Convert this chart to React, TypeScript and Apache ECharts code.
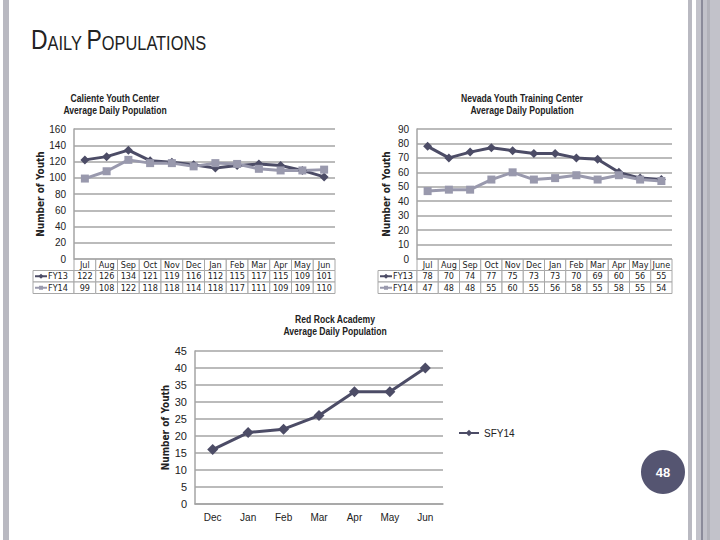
import { useEffect, useRef } from "react";
import * as echarts from "echarts";

const calienteMonths = ["Jul", "Aug", "Sep", "Oct", "Nov", "Dec", "Jan", "Feb", "Mar", "Apr", "May", "Jun"];
const calienteFy13 = [122, 126, 134, 121, 119, 116, 112, 115, 117, 115, 109, 101];
const calienteFy14 = [99, 108, 122, 118, 118, 114, 118, 117, 111, 109, 109, 110];

const nytcMonths = ["Jul", "Aug", "Sep", "Oct", "Nov", "Dec", "Jan", "Feb", "Mar", "Apr", "May", "June"];
const nytcFy13 = [78, 70, 74, 77, 75, 73, 73, 70, 69, 60, 56, 55];
const nytcFy14 = [47, 48, 48, 55, 60, 55, 56, 58, 55, 58, 55, 54];

const redRockMonths = ["Dec", "Jan", "Feb", "Mar", "Apr", "May", "Jun"];
const redRockSfy14 = [16, 21, 22, 26, 33, 33, 40];

const DARK = "#4c4c66";
const LIGHT = "#9999ad";
const GRID_LINE = "#a4a4a4";
const TEXT = "#222";
const FONT = "'Liberation Sans', Arial, sans-serif";
const NARROW = "'DejaVu Sans Condensed', 'Liberation Sans', sans-serif";

type Row = { name: string; values: number[]; color: string; symbol: "diamond" | "rect" };

// data table drawn under a chart: header row of months, one row per series
function dataTable(left: number, right: number, top: number, legendLeft: number, months: string[], rows: Row[]) {
  const rowH = 11.5;
  const colW = (right - left) / months.length;
  const cell = (x: number, y: number, w: number) => ({
    type: "rect",
    shape: { x, y, width: w, height: rowH },
    style: { fill: "#fff", stroke: "#a8a8a8", lineWidth: 1 }
  });
  const label = (text: string, x: number, y: number, align = "center") => ({
    type: "text",
    x,
    y,
    style: { text, align, verticalAlign: "middle", fill: TEXT, fontSize: 9, fontFamily: NARROW }
  });
  const els: any[] = [];
  months.forEach((m, i) => {
    els.push(cell(left + i * colW, top, colW));
    els.push(label(m, left + (i + 0.5) * colW, top + rowH / 2));
  });
  rows.forEach((r, ri) => {
    const y = top + (ri + 1) * rowH;
    const cy = y + rowH / 2;
    els.push(cell(legendLeft, y, left - legendLeft));
    els.push({
      type: "line",
      shape: { x1: legendLeft + 2, y1: cy, x2: legendLeft + 14, y2: cy },
      style: { stroke: r.color, lineWidth: 2 }
    });
    els.push(
      r.symbol === "diamond"
        ? {
            type: "polygon",
            shape: { points: [[legendLeft + 8, cy - 2.5], [legendLeft + 10.5, cy], [legendLeft + 8, cy + 2.5], [legendLeft + 5.5, cy]] },
            style: { fill: r.color }
          }
        : { type: "rect", shape: { x: legendLeft + 6, y: cy - 2, width: 4, height: 4 }, style: { fill: r.color } }
    );
    els.push(label(r.name, legendLeft + 15, cy, "left"));
    r.values.forEach((v, i) => {
      els.push(cell(left + i * colW, y, colW));
      els.push(label(String(v), left + (i + 0.5) * colW, cy));
    });
  });
  return els;
}

function chartTitle(lines: string, x: number, y: number) {
  return {
    type: "text",
    x,
    y,
    scaleX: 0.86,
    style: {
      text: lines,
      align: "center",
      verticalAlign: "top",
      fill: TEXT,
      fontSize: 10,
      fontWeight: "bold",
      fontFamily: FONT,
      lineHeight: 12
    }
  };
}

const yAxisBase = (gridIndex: number, max: number, interval: number, size: number, gap: number) => ({
  type: "value",
  gridIndex,
  min: 0,
  max,
  interval,
  name: "Number of Youth",
  nameLocation: "middle",
  nameGap: gap,
  nameTextStyle: { color: TEXT, fontSize: 10, fontWeight: "bold", fontFamily: NARROW },
  axisLine: { show: true, lineStyle: { color: GRID_LINE, width: 1.5 } },
  axisTick: { show: false },
  axisLabel: { color: TEXT, fontSize: size, fontFamily: FONT, margin: 8 },
  splitLine: { lineStyle: { color: GRID_LINE, width: 1.5 } }
});

export default function App() {
  const ref = useRef<HTMLDivElement | null>(null);

  useEffect(() => {
    if (!ref.current) {
      return;
    }
    const chart = echarts.init(ref.current, undefined, { renderer: "svg" });

    chart.setOption({
      animation: false,
      backgroundColor: "#fff",
      legend: {
        data: ["SFY14"],
        left: 453,
        top: 423,
        itemWidth: 20,
        itemHeight: 8,
        textStyle: { color: TEXT, fontSize: 10, fontFamily: FONT }
      },
      grid: [
        { left: 74, top: 129, width: 261, height: 130 },
        { left: 417, top: 129, width: 255, height: 130 },
        { left: 195, top: 351, width: 248, height: 153 }
      ],
      xAxis: [
        { type: "category", gridIndex: 0, data: calienteMonths, axisLine: { show: false }, axisTick: { show: false }, axisLabel: { show: false } },
        { type: "category", gridIndex: 1, data: nytcMonths, axisLine: { show: false }, axisTick: { show: false }, axisLabel: { show: false } },
        {
          type: "category",
          gridIndex: 2,
          data: redRockMonths,
          axisLine: { lineStyle: { color: GRID_LINE, width: 1.5 } },
          axisTick: { show: false },
          axisLabel: { color: TEXT, fontSize: 10, fontFamily: FONT, margin: 8 }
        }
      ],
      yAxis: [
        yAxisBase(0, 160, 20, 10, 28),
        yAxisBase(1, 90, 10, 10, 26),
        yAxisBase(2, 45, 5, 11, 19)
      ],
      series: [
        {
          name: "FY13", type: "line", xAxisIndex: 0, yAxisIndex: 0, data: calienteFy13,
          symbol: "diamond", symbolSize: 9, lineStyle: { color: DARK, width: 3 }, itemStyle: { color: DARK }
        },
        {
          name: "FY14", type: "line", xAxisIndex: 0, yAxisIndex: 0, data: calienteFy14,
          symbol: "rect", symbolSize: 8, lineStyle: { color: LIGHT, width: 3 }, itemStyle: { color: LIGHT }
        },
        {
          name: "FY13", type: "line", xAxisIndex: 1, yAxisIndex: 1, data: nytcFy13,
          symbol: "diamond", symbolSize: 9, lineStyle: { color: DARK, width: 3 }, itemStyle: { color: DARK }
        },
        {
          name: "FY14", type: "line", xAxisIndex: 1, yAxisIndex: 1, data: nytcFy14,
          symbol: "rect", symbolSize: 8, lineStyle: { color: LIGHT, width: 3 }, itemStyle: { color: LIGHT }
        },
        {
          name: "SFY14", type: "line", xAxisIndex: 2, yAxisIndex: 2, data: redRockSfy14,
          symbol: "diamond", symbolSize: 11, lineStyle: { color: DARK, width: 3 }, itemStyle: { color: DARK }
        }
      ],
      graphic: [
        // slide frame bars
        { type: "rect", shape: { x: 3, y: 0, width: 6, height: 540 }, style: { fill: "#b9b9c1" } },
        { type: "rect", shape: { x: 688, y: 0, width: 4, height: 540 }, style: { fill: "#b9b9c1" } },
        { type: "rect", shape: { x: 696, y: 0, width: 24, height: 540 }, style: { fill: "#c2c2ca" } },
        { type: "rect", shape: { x: 701.5, y: 0, width: 1, height: 540 }, style: { fill: "#55556a" } },
        { type: "rect", shape: { x: 707, y: 0, width: 3, height: 540 }, style: { fill: "#b2b2ba" } },
        // slide heading in small caps
        {
          type: "text",
          x: 31,
          y: 53,
          scaleX: 0.82,
          style: {
            text: "{b|D}{s|AILY }{b|P}{s|OPULATIONS}",
            verticalAlign: "bottom",
            rich: {
              b: { fontSize: 28, fill: "#222", fontFamily: FONT, verticalAlign: "bottom", lineHeight: 28 },
              s: { fontSize: 20, fill: "#222", fontFamily: FONT, verticalAlign: "bottom", lineHeight: 28 }
            }
          }
        },
        chartTitle("Caliente Youth Center\nAverage Daily Population", 115, 93),
        chartTitle("Nevada Youth Training Center\nAverage Daily Population", 522, 93),
        chartTitle("Red Rock Academy\nAverage Daily Population", 335, 314),
        ...dataTable(74, 335, 259, 33, calienteMonths, [
          { name: "FY13", values: calienteFy13, color: DARK, symbol: "diamond" },
          { name: "FY14", values: calienteFy14, color: LIGHT, symbol: "rect" }
        ]),
        ...dataTable(417, 672, 259, 378, nytcMonths, [
          { name: "FY13", values: nytcFy13, color: DARK, symbol: "diamond" },
          { name: "FY14", values: nytcFy14, color: LIGHT, symbol: "rect" }
        ]),
        // page number badge
        { type: "circle", shape: { cx: 663, cy: 472, r: 22 }, style: { fill: "#555571" } },
        {
          type: "text",
          x: 663,
          y: 472,
          style: { text: "48", align: "center", verticalAlign: "middle", fill: "#fff", fontSize: 13, fontWeight: "bold", fontFamily: FONT }
        }
      ]
    });

    return () => {
      chart.dispose();
    };
  }, []);

  return <div ref={ref} style={{ position: "absolute", left: 0, top: 0, width: 720, height: 540 }} />;
}
